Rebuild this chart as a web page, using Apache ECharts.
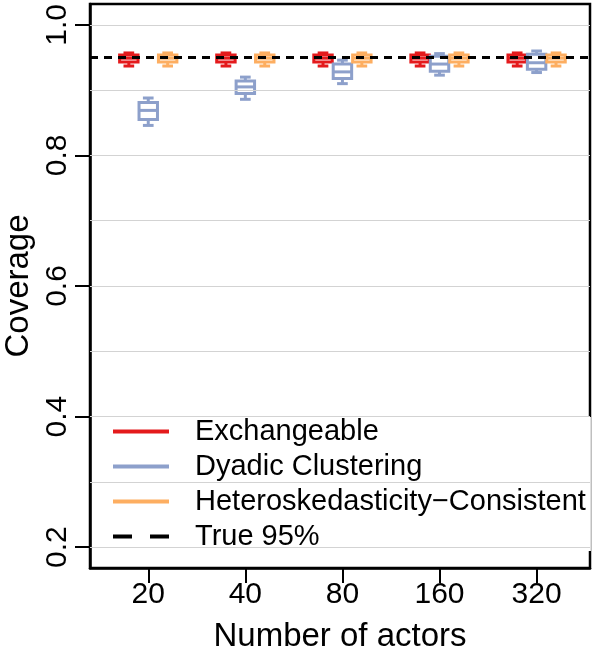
<!DOCTYPE html>
<html>
<head>
<meta charset="utf-8">
<script src="https://cdn.jsdelivr.net/npm/echarts@6/dist/echarts.min.js"></script>
<style>
  html, body { margin: 0; padding: 0; background: #fff; }
  #chart { width: 600px; height: 659px; }
</style>
</head>
<body>
<div id="chart"></div>
<script>
// number of actors (x categories)
const actorCounts = ['20', '40', '80', '160', '320']
const catPos = [1, 2, 3, 4, 5]
const yTicks = [0.2, 0.4, 0.6, 0.8, 1.0]
const gridValues = [0.2, 0.3, 0.4, 0.5, 0.6, 0.7, 0.8, 0.9, 1.0]
const trueCoverage = 0.95

// boxplot stats per n: [low, q1, median, q3, high]
const exchangeable = [
  [0.937, 0.943, 0.949, 0.954, 0.957],
  [0.937, 0.943, 0.949, 0.954, 0.957],
  [0.937, 0.943, 0.949, 0.954, 0.957],
  [0.937, 0.943, 0.949, 0.954, 0.957],
  [0.937, 0.943, 0.949, 0.954, 0.957]
]
const dyadic = [
  [0.846, 0.855, 0.869, 0.881, 0.888],
  [0.886, 0.895, 0.905, 0.914, 0.920],
  [0.910, 0.918, 0.928, 0.940, 0.946],
  [0.923, 0.929, 0.940, 0.952, 0.956],
  [0.927, 0.932, 0.942, 0.955, 0.960]
]
const heteroCons = [
  [0.937, 0.943, 0.949, 0.954, 0.957],
  [0.937, 0.943, 0.949, 0.954, 0.957],
  [0.937, 0.943, 0.949, 0.954, 0.957],
  [0.937, 0.943, 0.949, 0.954, 0.957],
  [0.937, 0.943, 0.949, 0.954, 0.957]
]

const xMin = 0.4
const xMax = 5.55
const font = 'Liberation Sans'

const boxRender = (offset) => (params, api) => {
    const x = api.value(0) + offset
    const boxW = 0.19
    const capW = 0.11
    const lo = api.coord([x, api.value(1)])
    const q1 = api.coord([x, api.value(2)])
    const med = api.coord([x, api.value(3)])
    const q3 = api.coord([x, api.value(4)])
    const hi = api.coord([x, api.value(5)])
    const bl = api.coord([x - boxW / 2, api.value(4)])[0]
    const br = api.coord([x + boxW / 2, api.value(4)])[0]
    const cl = api.coord([x - capW / 2, api.value(4)])[0]
    const cr = api.coord([x + capW / 2, api.value(4)])[0]
    const style = { stroke: api.visual('color'), lineWidth: 3, fill: null }
    return {
        type: 'group',
        children: [
            { type: 'line', shape: { x1: lo[0], y1: lo[1], x2: q1[0], y2: q1[1] }, style },
            { type: 'line', shape: { x1: q3[0], y1: q3[1], x2: hi[0], y2: hi[1] }, style },
            { type: 'line', shape: { x1: cl, y1: lo[1], x2: cr, y2: lo[1] }, style },
            { type: 'line', shape: { x1: cl, y1: hi[1], x2: cr, y2: hi[1] }, style },
            { type: 'rect', shape: { x: bl, y: q3[1], width: br - bl, height: q1[1] - q3[1] }, style },
            { type: 'line', shape: { x1: bl, y1: med[1], x2: br, y2: med[1] }, style }
        ]
    }
}

const toData = (stats) => stats.map((s, i) => [catPos[i]].concat(s))

const lineIcon = 'path://M0,0H56V4H0Z'
const dashIcon = 'path://M0,0H19V4H0Z M37,0H56V4H37Z'

let chart = echarts.init(document.getElementById('chart'))
chart.setOption({
    animation: false,
    textStyle: { fontFamily: font },
    grid: {
        left: 90,
        right: 10,
        top: 4,
        bottom: 91,
        show: true,
        borderColor: '#000',
        borderWidth: 2.5,
        containLabel: false,
        outerBoundsMode: 'none'
    },
    legend: {
        orient: 'vertical',
        left: 108,
        top: 417,
        padding: [0, 5, 0, 5],
        backgroundColor: '#fff',
        itemWidth: 56,
        itemHeight: 4,
        itemGap: 6,
        selectedMode: false,
        textStyle: {
            fontFamily: font,
            fontSize: 29,
            lineHeight: 28,
            color: '#000',
            padding: [0, 0, 0, 21]
        },
        data: [
            { name: 'Exchangeable', icon: lineIcon, itemStyle: { color: '#E41A1C', borderWidth: 0 } },
            { name: 'Dyadic Clustering', icon: lineIcon, itemStyle: { color: '#8DA0CB', borderWidth: 0 } },
            { name: 'Heteroskedasticity\u2212Consistent', icon: lineIcon, itemStyle: { color: '#FDAE61', borderWidth: 0 } },
            { name: 'True 95%', icon: dashIcon, itemStyle: { color: '#000', borderWidth: 0 } }
        ]
    },
    xAxis: {
        type: 'value',
        min: xMin,
        max: xMax,
        name: 'Number of actors',
        nameLocation: 'middle',
        nameGap: 52,
        nameTextStyle: { fontFamily: font, fontSize: 33, color: '#000' },
        axisLine: { show: true, lineStyle: { color: '#000', width: 2.5 } },
        axisTick: { show: true, length: 15, customValues: catPos, lineStyle: { color: '#000', width: 2 } },
        axisLabel: {
            customValues: catPos,
            formatter: (v) => actorCounts[Math.round(v) - 1],
            fontSize: 30,
            color: '#000',
            margin: 12
        },
        splitLine: { show: false }
    },
    yAxis: {
        type: 'value',
        min: 0.168,
        max: 1.032,
        name: 'Coverage',
        nameLocation: 'middle',
        nameRotate: 90,
        nameGap: 53,
        nameTextStyle: { fontFamily: font, fontSize: 33, color: '#000' },
        axisLine: { show: true, lineStyle: { color: '#000', width: 2.5 } },
        axisTick: { show: true, length: 15, customValues: yTicks, lineStyle: { color: '#000', width: 2 } },
        axisLabel: {
            customValues: yTicks,
            formatter: (v) => v.toFixed(1),
            rotate: 90,
            fontSize: 30,
            color: '#000',
            margin: 17
        },
        splitLine: { show: false }
    },
    series: [
        {
            name: 'gridlines',
            type: 'line',
            data: [],
            silent: true,
            z: 1,
            markLine: {
                silent: true,
                symbol: ['none', 'none'],
                label: { show: false },
                lineStyle: { color: '#d3d3d3', width: 1, type: 'solid' },
                data: gridValues.map(v => ({ yAxis: v }))
            }
        },
        {
            name: 'Exchangeable',
            type: 'custom',
            z: 3,
            itemStyle: { color: '#E41A1C' },
            encode: { x: 0, y: [1, 2, 3, 4, 5] },
            renderItem: boxRender(-0.2),
            data: toData(exchangeable)
        },
        {
            name: 'Dyadic Clustering',
            type: 'custom',
            z: 3,
            itemStyle: { color: '#8DA0CB' },
            encode: { x: 0, y: [1, 2, 3, 4, 5] },
            renderItem: boxRender(0),
            data: toData(dyadic)
        },
        {
            name: 'Heteroskedasticity\u2212Consistent',
            type: 'custom',
            z: 3,
            itemStyle: { color: '#FDAE61' },
            encode: { x: 0, y: [1, 2, 3, 4, 5] },
            renderItem: boxRender(0.2),
            data: toData(heteroCons)
        },
        {
            name: 'True 95%',
            type: 'line',
            z: 5,
            showSymbol: false,
            symbol: 'none',
            silent: true,
            itemStyle: { color: '#000' },
            lineStyle: { color: '#000', width: 3, type: [8, 6] },
            data: [[xMin, trueCoverage], [xMax, trueCoverage]]
        }
    ]
})
</script>
</body>
</html>
